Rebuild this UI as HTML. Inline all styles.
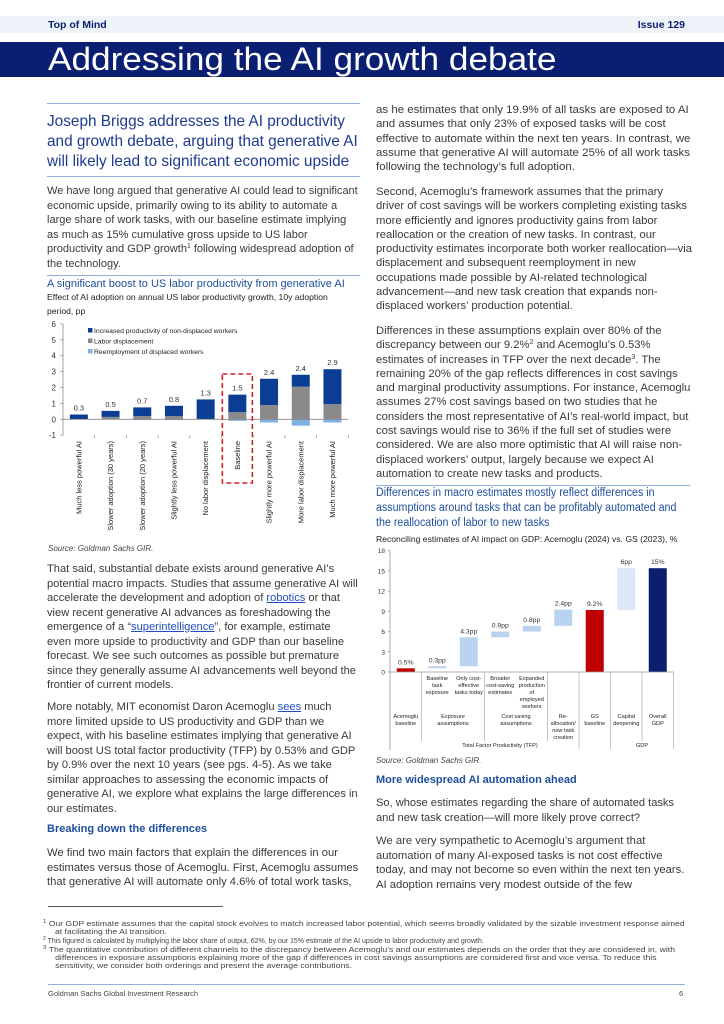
<!DOCTYPE html>
<html><head><meta charset="utf-8">
<style>
*{margin:0;padding:0;box-sizing:border-box}
body{width:724px;height:1024px;position:relative;background:#fff;font-family:"Liberation Sans",sans-serif;color:#3a3a3a;overflow:hidden}
sup{line-height:0;font-size:7px;vertical-align:4px}
.p{position:absolute;white-space:nowrap;font-size:11.2px;line-height:14.5px;transform-origin:0 0}
.pr{line-height:14.3px}
.h1{position:absolute;white-space:nowrap;font-size:16px;line-height:20px;color:#1d3a8f;transform-origin:0 0}
.rule{position:absolute;height:1px;background:#8fb0dc}
.ct{position:absolute;white-space:nowrap;font-size:11.5px;line-height:15px;color:#1f4e9e;transform-origin:0 0}
.cs{position:absolute;white-space:nowrap;font-size:8.6px;line-height:14px;color:#222;transform-origin:0 0}
.src{position:absolute;font-size:8px;font-style:italic;color:#444}
.sh{position:absolute;font-size:11px;font-weight:bold;color:#1f4e9e}
a{color:#1f4ec0;text-decoration:underline}
.fn{position:absolute;white-space:nowrap;font-size:7px;line-height:8px;color:#444;transform-origin:0 0}
.fn sup{font-size:5px;vertical-align:3px}
</style></head><body>
<div style="position:absolute;left:0;top:16px;width:724px;height:17px;background:#eef2f9"></div>
<div style="position:absolute;left:48px;top:19px;font-family:'Liberation Sans Narrow','Liberation Sans',sans-serif;font-weight:bold;font-size:10.5px;color:#0b2270">Top of Mind</div>
<div style="position:absolute;right:39px;top:19px;font-family:'Liberation Sans Narrow','Liberation Sans',sans-serif;font-weight:bold;font-size:10.5px;color:#0b2270">Issue 129</div>
<div style="position:absolute;left:0;top:42px;width:724px;height:35px;background:#0b1f72"></div>
<div class="fitw" data-w="509" style="position:absolute;left:48px;top:42px;font-size:32px;line-height:35px;color:#fff;white-space:nowrap;transform-origin:0 0">Addressing the AI growth debate</div>

<div class="rule" style="left:47px;top:103px;width:313px"></div>
<div class="h1 fitw" data-w="311" style="left:47px;top:112px">Joseph Briggs addresses the AI productivity<br>and growth debate, arguing that generative AI<br>will likely lead to significant economic upside</div>
<div class="rule" style="left:47px;top:176px;width:313px"></div>

<div class="p fitw" data-w="311" style="left:47px;top:184px">We have long argued that generative AI could lead to significant<br>economic upside, primarily owing to its ability to automate a<br>large share of work tasks, with our baseline estimate implying<br>as much as 15% cumulative gross upside to US labor<br>productivity and GDP growth<sup>1</sup> following widespread adoption of<br>the technology.</div>

<div class="rule" style="left:47px;top:275px;width:313px"></div>
<div class="ct" style="left:47px;top:277px;font-size:11px">A significant boost to US labor productivity from generative AI</div>
<div class="cs" style="left:47px;top:290px">Effect of AI adoption on annual US labor productivity growth, 10y adoption<br>period, pp</div>
<div class="src" style="left:48px;top:544px">Source: Goldman Sachs GIR.</div>

<div class="p fitw" data-w="311" style="left:47px;top:562px">That said, substantial debate exists around generative AI’s<br>potential macro impacts. Studies that assume generative AI will<br>accelerate the development and adoption of <a>robotics</a> or that<br>view recent generative AI advances as foreshadowing the<br>emergence of a “<a>superintelligence</a>”, for example, estimate<br>even more upside to productivity and GDP than our baseline<br>forecast. We see such outcomes as possible but premature<br>since they generally assume AI advancements well beyond the<br>frontier of current models.</div>

<div class="p fitw" data-w="311" style="left:47px;top:700px">More notably, MIT economist Daron Acemoglu <a>sees</a> much<br>more limited upside to US productivity and GDP than we<br>expect, with his baseline estimates implying that generative AI<br>will boost US total factor productivity (TFP) by 0.53% and GDP<br>by 0.9% over the next 10 years (see pgs. 4-5). As we take<br>similar approaches to assessing the economic impacts of<br>generative AI, we explore what explains the large differences in<br>our estimates.</div>

<div class="sh" style="left:47px;top:823px">Breaking down the differences</div>
<div class="p fitw" data-w="311" style="left:47px;top:846px">We find two main factors that explain the differences in our<br>estimates versus those of Acemoglu. First, Acemoglu assumes<br>that generative AI will automate only 4.6% of total work tasks,</div>

<div class="p pr fitw" data-w="314" style="left:376px;top:103px">as he estimates that only 19.9% of all tasks are exposed to AI<br>and assumes that only 23% of exposed tasks will be cost<br>effective to automate within the next ten years. In contrast, we<br>assume that generative AI will automate 25% of all work tasks<br>following the technology’s full adoption.</div>
<div class="p pr fitw" data-w="316" style="left:376px;top:185px">Second, Acemoglu’s framework assumes that the primary<br>driver of cost savings will be workers completing existing tasks<br>more efficiently and ignores productivity gains from labor<br>reallocation or the creation of new tasks. In contrast, our<br>productivity estimates incorporate both worker reallocation—via<br>displacement and subsequent reemployment in new<br>occupations made possible by AI-related technological<br>advancement—and new task creation that expands non-<br>displaced workers’ production potential.</div>
<div class="p pr fitw" data-w="314" style="left:376px;top:324px">Differences in these assumptions explain over 80% of the<br>discrepancy between our 9.2%<sup>2</sup> and Acemoglu’s 0.53%<br>estimates of increases in TFP over the next decade<sup>3</sup>. The<br>remaining 20% of the gap reflects differences in cost savings<br>and marginal productivity assumptions. For instance, Acemoglu<br>assumes 27% cost savings based on two studies that he<br>considers the most representative of AI’s real-world impact, but<br>cost savings would rise to 36% if the full set of studies were<br>considered. We are also more optimistic that AI will raise non-<br>displaced workers’ output, largely because we expect AI<br>automation to create new tasks and products.</div>

<div class="rule" style="left:376px;top:485px;width:314px"></div>
<div class="ct fitw" data-w="300" style="left:376px;top:486px">Differences in macro estimates mostly reflect differences in<br>assumptions around tasks that can be profitably automated and<br>the reallocation of labor to new tasks</div>
<div class="cs" style="left:376px;top:532px">Reconciling estimates of AI impact on GDP: Acemoglu (2024) vs. GS (2023), %</div>
<div class="src" style="left:376px;top:756px">Source: Goldman Sachs GIR.</div>

<div class="sh" style="left:376px;top:774px">More widespread AI automation ahead</div>
<div class="p fitw" data-w="298" style="left:376px;top:796px">So, whose estimates regarding the share of automated tasks<br>and new task creation—will more likely prove correct?</div>
<div class="p fitw" data-w="308" style="left:376px;top:834px">We are very sympathetic to Acemoglu’s argument that<br>automation of many AI-exposed tasks is not cost effective<br>today, and may not become so even within the next ten years.<br>AI adoption remains very modest outside of the few</div>

<div style="position:absolute;left:48px;top:906px;width:175px;height:1px;background:#555"></div>
<div class="fn fitw" data-w="642" style="left:43px;top:921px"><sup>1</sup> Our GDP estimate assumes that the capital stock evolves to match increased labor potential, which seems broadly validated by the sizable investment response aimed<br>&nbsp;&nbsp;&nbsp;&nbsp;&nbsp;at facilitating the AI transition.</div>
<div class="fn" style="left:43px;top:938px"><sup>2</sup> This figured is calculated by multiplying the labor share of output, 62%, by our 15% estimate of the AI upside to labor productivity and growth.</div>
<div class="fn fitw" data-w="632" style="left:43px;top:947px"><sup>3</sup> The quantitative contribution of different channels to the discrepancy between Acemoglu’s and our estimates depends on the order that they are considered in, with<br>&nbsp;&nbsp;&nbsp;&nbsp;&nbsp;differences in exposure assumptions explaining more of the gap if differences in cost savings assumptions are considered first and vice versa. To reduce this<br>&nbsp;&nbsp;&nbsp;&nbsp;&nbsp;sensitivity, we consider both orderings and present the average contributions.</div>
<div class="rule" style="left:48px;top:984px;width:637px"></div>
<div style="position:absolute;left:48px;top:989px;font-size:7.5px;color:#444">Goldman Sachs Global Investment Research</div>
<div style="position:absolute;left:679px;top:989px;font-size:7.5px;color:#444">6</div>

<svg id="c1" style="position:absolute;left:0;top:0" width="724" height="1024" font-family="Liberation Sans, sans-serif"></svg>

<script>
// ---- Chart 1 data ----
const c1Categories = ["Much less powerful AI","Slower adoption (30 years)","Slower adoption (20 years)","Slightly less powerful AI","No labor displacement","Baseline","Slightly more powerful AI","More labor displacement","Much more powerful AI"];
const c1Productivity = [0.3,0.38,0.55,0.65,1.25,1.1,1.65,0.75,2.2];
const c1Displacement = [0,0.15,0.2,0.2,0,0.45,0.9,2.05,0.95];
const c1Reemployment = [0,0,-0.05,-0.05,0,-0.1,-0.2,-0.4,-0.2];
const c1Totals = ["0.3","0.5","0.7","0.8","1.3","1.5","2.4","2.4","2.9"];
const c1Ticks = [-1,0,1,2,3,4,5,6];
const c1Legend = ["Increased productivity of non-displaced workers","Labor displacement","Reemployment of displaced workers"];

// ---- Chart 2 data ----
const c2Deltas = [0.55,0.3,4.3,0.85,0.85,2.4,9.2,6.2,15.4];
const c2Types = ["total","delta","delta","delta","delta","delta","total","delta","total"];
const c2Labels = ["0.5%","0.3pp","4.3pp","0.9pp","0.8pp","2.4pp","9.2%","6pp","15%"];
const c2Ticks = [0,3,6,9,12,15,18];

const NS="http://www.w3.org/2000/svg";
const svg=document.getElementById('c1');
function mk(t,a,txt){const e=document.createElementNS(NS,t);for(const k in a)e.setAttribute(k,a[k]);if(txt!==undefined)e.textContent=txt;svg.appendChild(e);return e;}

const y1=v=>419.3-v*15.9;
const bw1=31.7, x1=i=>63+bw1*(i+0.5);
c1Ticks.forEach(t=>{
  const e=mk('text',{x:56,y:y1(t)+3,'font-size':8,'text-anchor':'end',fill:'#333'},t);
  
  
  mk('line',{x1:60,x2:63,y1:y1(t),y2:y1(t),stroke:'#888','stroke-width':0.7});
});
let ax=mk('line',{x1:63,x2:63,y1:y1(6),y2:y1(-1),stroke:'#888','stroke-width':0.8});


c1Categories.forEach((c,i)=>{
  const cx=x1(i);
  const rd=mk('rect',{x:cx-9,y:y1(0),width:18,height:y1(c1Reemployment[i])-y1(0),fill:'#7fb0e2'});
  
  
  const d=c1Displacement[i];
  const dr=mk('rect',{x:cx-9,y:y1(d),width:18,height:y1(0)-y1(d),fill:'#8a8a8a'});
  
  
  const p=c1Productivity[i];
  const pr=mk('rect',{x:cx-9,y:y1(d+p),width:18,height:y1(d)-y1(d+p),fill:'#0b3d94'});
  
  
  const vl=mk('text',{x:cx,y:y1(d+p)-4,'font-size':7.5,'text-anchor':'middle',fill:'#333'},c1Totals[i]);
  
  
  const cl=mk('text',{x:0,y:0,'font-size':7.5,'text-anchor':'end',fill:'#222',transform:`translate(${cx+2.5},441) rotate(-90)`},c);
  
  
  mk('line',{x1:63+bw1*(i+1),x2:63+bw1*(i+1),y1:y1(-1),y2:y1(-1)+3,stroke:'#888','stroke-width':0.7});
});
let xa=mk('line',{x1:63,x2:63+bw1*9,y1:y1(0),y2:y1(0),stroke:'#888','stroke-width':0.8});


const bx=mk('rect',{x:x1(5)-15,y:374,width:30,height:109,fill:'none',stroke:'#d9202a','stroke-width':1.6,'stroke-dasharray':'5,3'});


const lc=['#0b3d94','#8a8a8a','#7fb0e2'];
c1Legend.forEach((l,i)=>{
  mk('rect',{x:88,y:328+i*10.5,width:4.5,height:4.5,fill:lc[i]});
  const t=mk('text',{x:94,y:333+i*10.5,'font-size':6.8,fill:'#222'},l);
  
  
});

const y2=v=>672-v*6.74;
const bw2=31.5, x2=i=>390+bw2*(i+0.5);
c2Ticks.forEach(t=>{
  const e=mk('text',{x:385,y:y2(t)+2.5,'font-size':6.5,'text-anchor':'end',fill:'#333'},t);
  
  
  mk('line',{x1:388,x2:390,y1:y2(t),y2:y2(t),stroke:'#888','stroke-width':0.7});
});
let ax2=mk('line',{x1:390,x2:390,y1:y2(18),y2:750,stroke:'#999','stroke-width':0.8});


let run=0;
c2Deltas.forEach((d,i)=>{
  let lo,hi,fill;
  if(c2Types[i]==='total'){lo=0;hi=d;run=d;fill=(i===c2Deltas.length-1)?'#0b1f6e':'#c00000';}
  else{lo=run;hi=run+d;run=hi;fill=(i===7)?'#dce8f7':'#b8d2ef';}
  const r=mk('rect',{x:x2(i)-9,y:y2(hi),width:18,height:y2(lo)-y2(hi),fill:fill});
  
  
  const t=mk('text',{x:x2(i),y:y2(hi)-4,'font-size':6.8,'text-anchor':'middle',fill:'#333'},c2Labels[i]);
  
  
});
let xa2=mk('line',{x1:390,x2:390+bw2*9,y1:y2(0),y2:y2(0),stroke:'#999','stroke-width':0.8});


[[1,741],[3,741],[5,741],[6,749],[7,749],[8,741],[9,749]].forEach(([k,b])=>{
  mk('line',{x1:390+bw2*k,x2:390+bw2*k,y1:y2(0),y2:b,stroke:'#aaa','stroke-width':0.7});
});
function ml(x,y,lines,name){lines.forEach((s,j)=>{const t=mk('text',{x:x,y:y+j*7,'font-size':5.6,'text-anchor':'middle',fill:'#222'},s);
 
 });}
ml(x2(1),680,["Baseline","task","exposure"],'c2-sub-label');
ml(x2(2),680,["Only cost-","effective","tasks today"],'c2-sub-label');
ml(x2(3),680,["Broader","cost-saving","estimates"],'c2-sub-label');
ml(x2(4),680,["Expanded","production","of","employed","workers"],'c2-sub-label');
ml(x2(0),718,["Acemoglu","baseline"],'c2-category-label');
ml((x2(1)+x2(2))/2,718,["Exposure","assumptions"],'c2-category-label');
ml((x2(3)+x2(4))/2,718,["Cost saving","assumptions"],'c2-category-label');
ml(x2(5),718,["Re-","allocation/","new task","creation"],'c2-category-label');
ml(x2(6),718,["GS","baseline"],'c2-category-label');
ml(x2(7),718,["Capital","deepening"],'c2-category-label');
ml(x2(8),718,["Overall","GDP"],'c2-category-label');
ml(500,747,["Total Factor Productivity (TFP)"],'c2-group-label');
ml(642,747,["GDP"],'c2-group-label');

document.querySelectorAll('.fitw').forEach(el=>{
  const w=el.scrollWidth, t=+el.dataset.w;
  if(w>0) el.style.transform=`scaleX(${t/w})`;
});
</script>
</body></html>
